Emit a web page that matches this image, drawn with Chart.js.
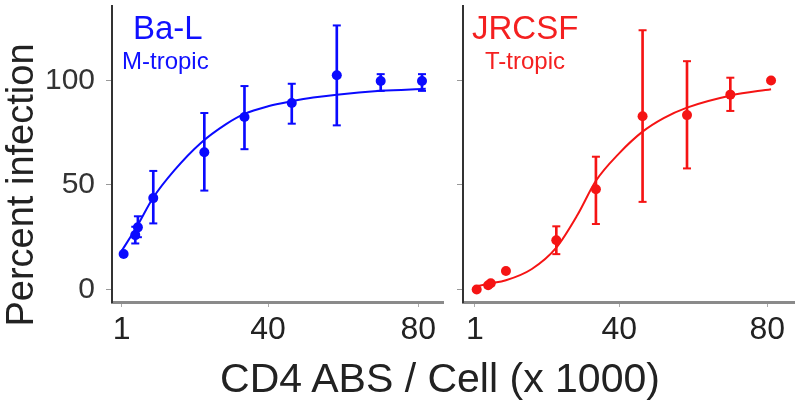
<!DOCTYPE html>
<html>
<head>
<meta charset="utf-8">
<script src="https://cdn.jsdelivr.net/npm/chart.js@4.4.1/dist/chart.umd.min.js"></script>
<style>
  body { margin: 0; background: #fff; }
  #wrap { position: relative; width: 800px; height: 403px; overflow: hidden; font-family: 'Liberation Sans', Arial, sans-serif; }
  canvas { position: absolute; top: 0; }
  .lbl { position: absolute; line-height: 1; white-space: nowrap; }
</style>
</head>
<body>
<div id="wrap">
  <canvas id="left" width="450" height="403" style="left:0"></canvas>
  <canvas id="right" width="350" height="403" style="left:450px"></canvas>
  <div class="lbl" style="left:133px; top:11px; font-size:33px; color:#1010ff">Ba-L</div>
  <div class="lbl" style="left:122px; top:49px; font-size:24px; color:#1010ff">M-tropic</div>
  <div class="lbl" style="left:472px; top:11px; font-size:33px; color:#f42020">JRCSF</div>
  <div class="lbl" style="left:485px; top:49px; font-size:24px; color:#f42020">T-tropic</div>
  <div class="lbl" style="left:-130px; top:166px; width:300px; text-align:center; font-size:38px; color:#222; transform:rotate(-90deg)">Percent infection</div>
  <div class="lbl" style="left:140px; top:358px; width:600px; text-align:center; font-size:41px; color:#222">CD4 ABS / Cell (x 1000)</div>
</div>
<script>
// CD4 antibody binding sites per cell (x 1000)
const cd4 = [1.5, 4.6, 5.3, 9.4, 23, 33.7, 46.3, 58.3, 70, 81]

// Ba-L (M-tropic), mean and error bar ends
const balMean = [17, 26, 29.7, 43.7, 65.6, 82.5, 89.2, 102.5, 99.7, 99.7]
const balLo = [null, 22, 25, 31.6, 47.3, 67.1, 79.3, 78.5, 95, 95]
const balHi = [null, 30, 35, 56.7, 84.4, 97.3, 98.4, 126.3, 103, 103]

// JRCSF (T-tropic)
const jrMean = [0, 2, 3, 8.8, 23.5, 47.9, 82.9, 83.4, 93.2, 100]
const jrLo = [null, null, null, null, 16.9, 31.3, 41.9, 57.9, 85.4, null]
const jrHi = [null, null, null, null, 30.2, 63.5, 124, 109.2, 101.3, null]

// fitted curves
const balFitX = [1, 5, 9.4, 15, 22, 28.7, 33.7, 40, 46.3, 52, 58.3, 70, 82]
const balFitY = [18.5, 30, 44, 57, 70, 79, 84, 87.6, 90, 91.8, 93.2, 95, 96]
const jrFitX = [1.4, 4.8, 9.4, 16.4, 23, 28.7, 33.7, 39.9, 46.3, 52, 58.3, 70.2, 81]
const jrFitY = [1.5, 2.8, 4.4, 9.8, 20, 35.6, 52, 65, 75.5, 82, 87, 92.8, 95.8]

const xTicks = [1, 40, 80]
const yTicks = [0, 50, 100]

const BLUE = '#0a0aff'
const RED = '#f51414'

Chart.defaults.font.family = "'Liberation Sans', Arial, sans-serif"

function pairs(xs, ys) {
    return xs.map((x, i) => ({ x: x, y: ys[i] })).filter(p => p.y !== null)
}

function makePanel(canvas, mean, lo, hi, fitX, fitY, color, opts) {
    const bars = cd4.map((x, i) => ({ x: x, y: [lo[i], hi[i]] })).filter((p, i) => lo[i] !== null)
    const caps = pairs(cd4, lo).concat(pairs(cd4, hi))

    new Chart(canvas, {
        type: 'scatter',
        data: {
            datasets: [
                {
                    type: 'scatter',
                    data: pairs(cd4, mean),
                    pointRadius: 5,
                    pointBackgroundColor: color,
                    pointBorderWidth: 0,
                },
                {
                    type: 'scatter',
                    data: caps,
                    pointStyle: 'line',
                    pointRadius: 4,
                    pointBorderWidth: 2,
                    pointBorderColor: color,
                },
                {
                    type: 'bar',
                    data: bars,
                    barThickness: 2,
                    backgroundColor: color,
                    borderWidth: 0,
                },
                {
                    type: 'line',
                    data: pairs(fitX, fitY),
                    borderColor: color,
                    borderWidth: 2,
                    pointRadius: 0,
                    fill: false,
                    cubicInterpolationMode: 'monotone',
                },
            ],
        },
        options: {
            responsive: false,
            animation: false,
            events: [],
            layout: { padding: { top: 0, left: 0, bottom: 0, right: opts.padRight } },
            plugins: { legend: { display: false }, tooltip: { enabled: false } },
            scales: {
                x: {
                    type: 'linear',
                    min: opts.xMin,
                    max: opts.xMax,
                    offset: false,
                    afterBuildTicks: s => { s.ticks = xTicks.map(v => ({ value: v })) },
                    afterFit: s => {
                        s.height = 101
                        s.paddingLeft = 0; s.paddingRight = 0
                    },
                    border: { color: '#8a8a8a', width: 3 },
                    grid: { drawOnChartArea: false, offset: false, tickLength: 5, tickColor: '#aaa' },
                    ticks: {
                        font: { size: 32 },
                        color: '#222',
                        padding: 4,
                        maxRotation: 0,
                        autoSkip: false,
                        callback: v => String(v),
                    },
                },
                y: {
                    type: 'linear',
                    min: -6,
                    max: 135.6,
                    afterBuildTicks: s => { s.ticks = yTicks.map(v => ({ value: v })) },
                    afterFit: s => {
                        s.width = opts.yWidth
                        s.paddingTop = 0; s.paddingBottom = 0
                    },
                    border: { color: '#333', width: 2 },
                    grid: { drawOnChartArea: false, tickLength: 6, tickColor: '#999' },
                    ticks: {
                        display: opts.yLabels,
                        font: { size: 30 },
                        color: '#333',
                        padding: 11,
                        callback: v => String(v),
                    },
                },
            },
        },
    })
}

makePanel(document.getElementById('left'), balMean, balLo, balHi, balFitX, balFitY, BLUE,
    { xMin: -1.6, xMax: 86.6, padRight: 7, yWidth: 112, yLabels: true })
makePanel(document.getElementById('right'), jrMean, jrLo, jrHi, jrFitX, jrFitY, RED,
    { xMin: -2.2, xMax: 87.2, padRight: 3, yWidth: 13, yLabels: false })
</script>
</body>
</html>
